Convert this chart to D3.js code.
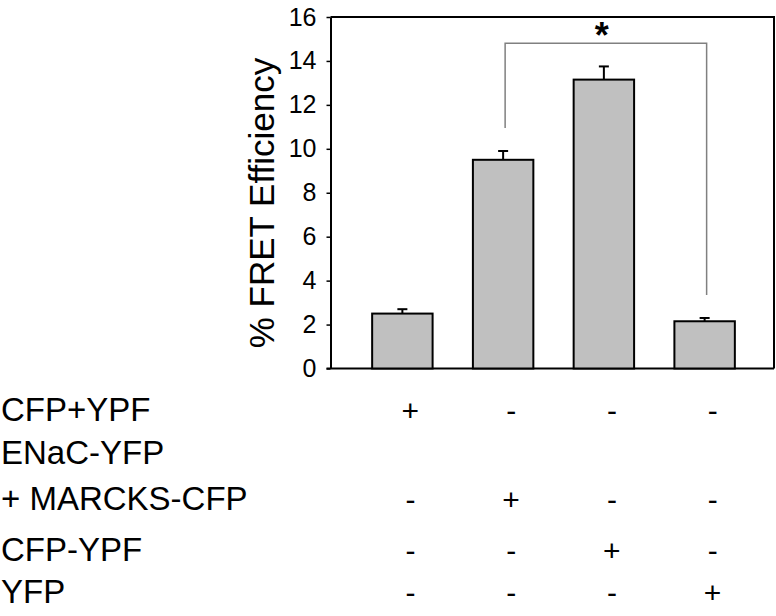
<!DOCTYPE html>
<html lang="en">
<head>
<meta charset="UTF-8"/>
<title>FRET Efficiency</title>
<script src="https://d3js.org/d3.v7.min.js"></script>
<style>
  body { margin: 0; background: #fff; }
  svg text { font-family: "Liberation Sans", Arial, sans-serif; fill: #000; }
</style>
</head>
<body>
<script>
    // data
    var conditions = ["CFP+YPF", "ENaC-YFP + MARCKS-CFP", "CFP-YPF", "YFP"];
    var fretMean = [2.5, 9.5, 13.15, 2.15];
    var fretErr = [0.2, 0.4, 0.6, 0.15];
    var yTicks = [0, 2, 4, 6, 8, 10, 12, 14, 16];

    var rowLabels = ["CFP+YPF", "ENaC-YFP", "+ MARCKS-CFP", "CFP-YPF", "YFP"];
    var rowSigns = [
        ["+", "-", "-", "-"],
        [],
        ["-", "+", "-", "-"],
        ["-", "-", "+", "-"],
        ["-", "-", "-", "+"]
    ];

    // significance bracket between bar 2 and bar 4
    var bracketPair = [1, 3];
    var bracketLevel = 14.8;
    var bracketEnds = [10.95, 3.35];

    var w = 776;
    var h = 616;
    var plotLeft = 330.5, plotRight = 774;

    var svg = d3.select("body")
                .append("svg")
                .attr("width", w)
                .attr("height", h);

    var y = d3.scaleLinear()
        .domain([0, 16])
        .range([368.5, 17]);

    var x = d3.scaleBand()
        .domain(d3.range(conditions.length))
        .range([352, 755])
        .paddingInner(0.4)
        .paddingOuter(0.2);

    // frame (top + right)
    svg.append("path")
        .attr("d", "M" + plotLeft + "," + y(16) + "H" + plotRight + "V" + y(0))
        .attr("fill", "none")
        .attr("stroke", "#000")
        .attr("stroke-width", 2);

    // bottom axis line
    svg.append("line")
        .attr("x1", plotLeft - 4).attr("x2", plotRight)
        .attr("y1", y(0)).attr("y2", y(0))
        .attr("stroke", "#000")
        .attr("stroke-width", 2);

    // y axis
    var yAxis = svg.append("g")
        .attr("transform", "translate(" + plotLeft + ",0)")
        .call(d3.axisLeft(y).tickValues(yTicks).tickSize(4).tickPadding(10).tickSizeOuter(0));
    yAxis.select(".domain").attr("stroke", "#000").attr("stroke-width", 2);
    yAxis.selectAll(".tick line").attr("stroke", "#000").attr("stroke-width", 1.5);
    yAxis.selectAll(".tick text")
        .attr("font-size", "25px")
        .attr("font-family", "Liberation Sans, Arial, sans-serif")
        .attr("fill", "#000");

    svg.append("text")
        .attr("transform", "translate(274,203) rotate(-90)")
        .attr("text-anchor", "middle")
        .attr("font-size", "35px")
        .text("% FRET Efficiency");

    // error bars (up only)
    var err = svg.append("g").attr("stroke", "#000").attr("stroke-width", 2);
    conditions.forEach(function(c, i) {
        var cx = x(i) + x.bandwidth() / 2;
        err.append("line")
            .attr("x1", cx).attr("x2", cx)
            .attr("y1", y(fretMean[i])).attr("y2", y(fretMean[i] + fretErr[i]));
        err.append("line")
            .attr("x1", cx - 5).attr("x2", cx + 5)
            .attr("y1", y(fretMean[i] + fretErr[i])).attr("y2", y(fretMean[i] + fretErr[i]));
    });

    // bars
    svg.selectAll("rect.bar")
        .data(fretMean)
        .enter()
        .append("rect")
        .attr("class", "bar")
        .attr("x", function(d, i) { return x(i); })
        .attr("y", function(d) { return y(d); })
        .attr("width", x.bandwidth())
        .attr("height", function(d) { return y(0) - y(d); })
        .attr("fill", "#c0c0c0")
        .attr("stroke", "#000")
        .attr("stroke-width", 2);

    // bracket
    var bx1 = x(bracketPair[0]) + x.bandwidth() / 2 + 2;
    var bx2 = x(bracketPair[1]) + x.bandwidth() / 2 + 2;
    svg.append("path")
        .attr("d", "M" + bx1 + "," + y(bracketEnds[0]) + "V" + y(bracketLevel) +
                   "H" + bx2 + "V" + y(bracketEnds[1]))
        .attr("fill", "none")
        .attr("stroke", "#808080")
        .attr("stroke-width", 1.5);
    svg.append("text")
        .attr("x", (bx1 + bx2) / 2 - 4)
        .attr("y", 48)
        .attr("text-anchor", "middle")
        .attr("font-size", "36px")
        .attr("font-weight", "bold")
        .text("*");

    // condition table
    var rowBase = [421, 464, 510, 561, 603];
    rowLabels.forEach(function(lab, r) {
        svg.append("text")
            .attr("x", 1)
            .attr("y", rowBase[r])
            .attr("font-size", "33px")
            .text(lab);
        rowSigns[r].forEach(function(s, i) {
            svg.append("text")
                .attr("x", x(i) + x.bandwidth() / 2 + 8)
                .attr("y", rowBase[r])
                .attr("text-anchor", "middle")
                .attr("font-size", "30px")
                .text(s);
        });
    });
</script>
</body>
</html>
